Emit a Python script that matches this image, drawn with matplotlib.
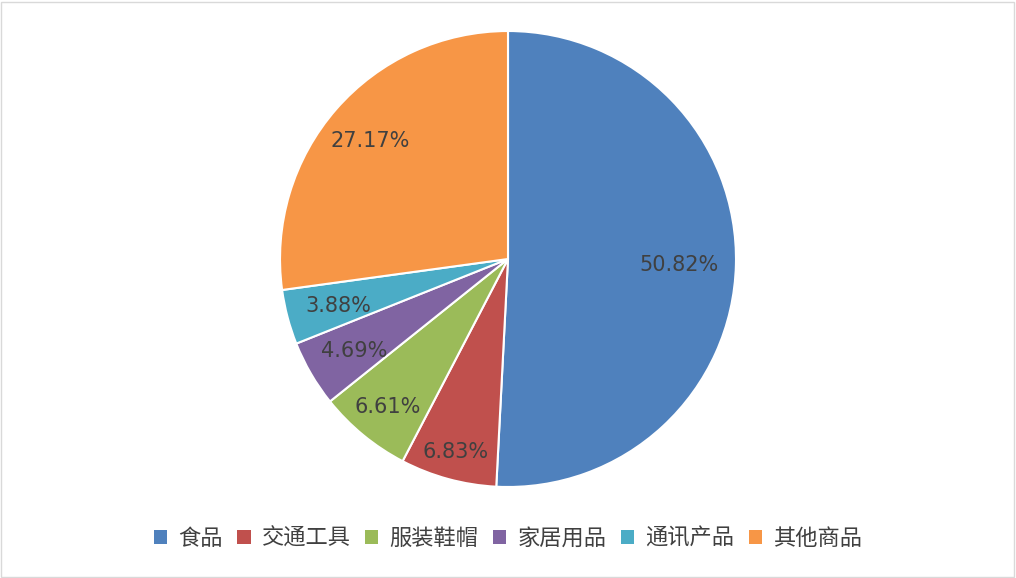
import matplotlib
matplotlib.use('Agg')
import matplotlib.pyplot as plt
from matplotlib.patches import Patch, Rectangle
import numpy as np

# data
labels = ['食品', '交通工具', '服装鞋帽', '家居用品', '通讯产品', '其他商品']
values = [50.82, 6.83, 6.61, 4.69, 3.88, 27.17]
colors = ['#4F81BD', '#C0504D', '#9BBB59', '#8064A2', '#4BACC6', '#F79646']
label_dist = [0.75, 0.87, 0.83, 0.78, 0.77, 0.80]

plt.rcParams['font.family'] = ['Noto Sans CJK SC', 'DejaVu Sans']

fig = plt.figure(figsize=(10.16, 5.78), dpi=100)
ax = fig.add_axes([0.2756, 0.1574, 0.4488, 0.789])

wedges, texts = ax.pie(values, colors=colors, startangle=90, counterclock=False,
                       wedgeprops={'edgecolor': 'white', 'linewidth': 1.5})
ax.set_xlim(-1, 1)
ax.set_ylim(-1, 1)
ax.set_aspect('equal')

# percentage labels
for w, v, d in zip(wedges, values, label_dist):
    ang = np.deg2rad((w.theta1 + w.theta2) / 2)
    ax.text(d * np.cos(ang), d * np.sin(ang), f'{v:.2f}%', ha='center',
            va='center_baseline', fontsize=15, color='#404040', family=['DejaVu Sans'])

handles = [Patch(facecolor=c, edgecolor='none') for c in colors]
fig.legend(handles, labels, loc='center', bbox_to_anchor=(0.5, 0.069), ncol=6,
           frameon=False, fontsize=16, handlelength=0.6, handleheight=0.6,
           handletextpad=0.5, columnspacing=0.65, labelcolor='#404040')

fig.patches.append(Rectangle((0.001, 0.002), 0.997, 0.995, transform=fig.transFigure,
                             fill=False, edgecolor='#D9D9D9', linewidth=1))

fig.savefig('out.png', dpi=100)
